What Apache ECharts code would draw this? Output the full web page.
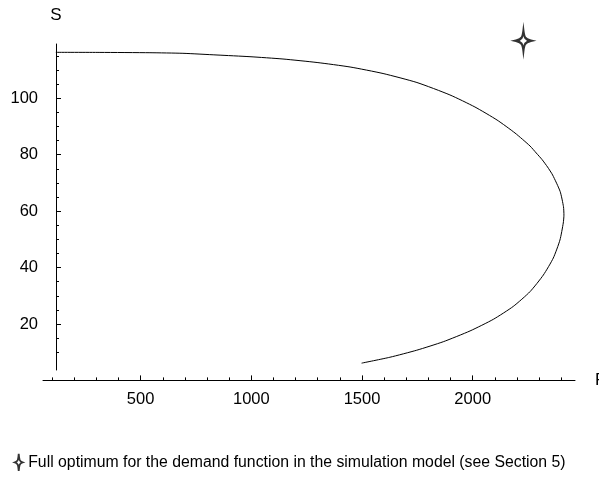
<!DOCTYPE html>
<html>
<head>
<meta charset="utf-8">
<script src="https://cdn.jsdelivr.net/npm/echarts@6/dist/echarts.min.js"></script>
<style>
html,body{margin:0;padding:0;background:#fff;}
#chart{width:599px;height:479px;}
</style>
</head>
<body>
<div id="chart"></div>
<script>
// Curve S(P), in drawing order
const P_CURVE = [117, 316, 542, 691, 845, 994, 1143, 1297, 1446, 1595, 1748, 1897, 2010, 2110, 2191, 2259, 2287, 2313, 2338, 2361, 2395, 2410, 2412, 2409, 2394, 2364, 2319, 2259, 2183, 2093, 1988, 1867, 1747, 1626, 1498];
const S_CURVE = [116.3, 116.27, 116.16, 115.95, 115.35, 114.75, 113.93, 112.69, 111.1, 108.79, 105.6, 101.2, 96.92, 92.3, 87.7, 83.09, 80.61, 78.31, 75.65, 72.81, 66.96, 61.57, 58.6, 55.8, 49.77, 43.39, 37.36, 31.48, 26.23, 21.66, 17.55, 13.72, 10.71, 8.22, 6.13];
// Full optimum point
const OPT_P = [2229];
const OPT_S = [120.4];
const OPT_NAME = 'Full optimum for the demand function in the simulation model (see Section 5)';
// Axis ticks
const X_MAJOR = [500, 1000, 1500, 2000];
const X_MINOR = [100, 200, 300, 400, 600, 700, 800, 900, 1100, 1200, 1300, 1400, 1600, 1700, 1800, 1900, 2100, 2200, 2300, 2400];
const Y_MAJOR = [20, 40, 60, 80, 100];
const Y_MINOR = [10, 15, 25, 30, 35, 45, 50, 55, 65, 70, 75, 85, 90, 95, 105, 110, 115];

const FONT = "'Liberation Sans', Arial, sans-serif";
const STAR = 'path://M0,-10 C0.8,-3 1.4,-1.4 7,0 C1.4,1.4 0.8,3 0,10 C-0.8,3 -1.4,1.4 -7,0 C-1.4,-1.4 -0.8,-3 0,-10 Z';
const STAR_NARROW = 'path://M0,-10 C0.5,-3 0.9,-1.2 4.5,0 C0.9,1.2 0.5,3 0,10 C-0.5,3 -0.9,1.2 -4.5,0 C-0.9,-1.2 -0.5,-3 0,-10 Z';

const X_MIN = 59, X_MAX = 2462, Y_MIN = 3.7, Y_MAX = 119.25;

const curve = P_CURVE.map((p, i) => [p, S_CURVE[i]]);
const opt = OPT_P.map((p, i) => [p, OPT_S[i]]);

const chart = echarts.init(document.getElementById('chart'), null, {renderer: 'canvas'});
const lineBlack = {color: '#000', width: 1};
const plain = v => String(v);

chart.setOption({
  animation: false,
  backgroundColor: '#fff',
  grid: {left: 43, top: 44, width: 532, height: 326, containLabel: false, outerBoundsMode: 'none'},
  xAxis: [
    {
      type: 'value', min: X_MIN, max: X_MAX, position: 'bottom', offset: 10.4,
      axisLine: {show: true, onZero: false, lineStyle: lineBlack},
      axisTick: {show: true, inside: true, length: 5, customValues: X_MAJOR, lineStyle: lineBlack},
      axisLabel: {show: true, customValues: X_MAJOR, formatter: plain, margin: 11, color: '#000', fontSize: 16.5, fontFamily: FONT},
      splitLine: {show: false}, minorTick: {show: false},
      name: 'P', nameLocation: 'end', nameGap: 20,
      nameTextStyle: {color: '#000', fontSize: 17, fontFamily: FONT}
    },
    {
      type: 'value', min: X_MIN, max: X_MAX, position: 'bottom', offset: 10.4,
      axisLine: {show: false, onZero: false},
      axisTick: {show: true, inside: true, length: 3, customValues: X_MINOR, lineStyle: lineBlack},
      axisLabel: {show: false},
      splitLine: {show: false}
    }
  ],
  yAxis: [
    {
      type: 'value', min: Y_MIN, max: Y_MAX, position: 'left', offset: -13,
      axisLine: {show: true, onZero: false, lineStyle: lineBlack},
      axisTick: {show: true, inside: true, length: 5, customValues: Y_MAJOR, lineStyle: lineBlack},
      axisLabel: {show: true, customValues: Y_MAJOR, formatter: plain, margin: 18, color: '#000', fontSize: 16.5, fontFamily: FONT},
      splitLine: {show: false}, minorTick: {show: false},
      name: 'S', nameLocation: 'end', nameGap: 20,
      nameTextStyle: {color: '#000', fontSize: 17, fontFamily: FONT}
    },
    {
      type: 'value', min: Y_MIN, max: Y_MAX, position: 'left', offset: -13,
      axisLine: {show: false, onZero: false},
      axisTick: {show: true, inside: true, length: 3, customValues: Y_MINOR, lineStyle: lineBlack},
      axisLabel: {show: false},
      splitLine: {show: false}
    }
  ],
  legend: {
    show: true, data: [{name: OPT_NAME, icon: STAR_NARROW}], left: 14, top: 453, padding: 0,
    itemWidth: 9, itemHeight: 17,
    itemStyle: {color: '#fff', borderColor: '#000', borderWidth: 1.8},
    textStyle: {color: '#000', fontSize: 15.8, fontFamily: FONT}
  },
  series: [
    {
      name: 'curve', type: 'line', xAxisIndex: 0, yAxisIndex: 0,
      data: curve, smooth: 0.2, showSymbol: false, symbol: 'none',
      lineStyle: {color: '#000', width: 1}, silent: true, z: 3
    },
    {
      name: OPT_NAME, type: 'scatter', xAxisIndex: 0, yAxisIndex: 0,
      data: opt, symbol: STAR, symbolSize: [15, 21], clip: false,
      itemStyle: {color: '#fff', borderColor: '#000', borderWidth: 2.3}, z: 4
    }
  ]
});
</script>
</body>
</html>
